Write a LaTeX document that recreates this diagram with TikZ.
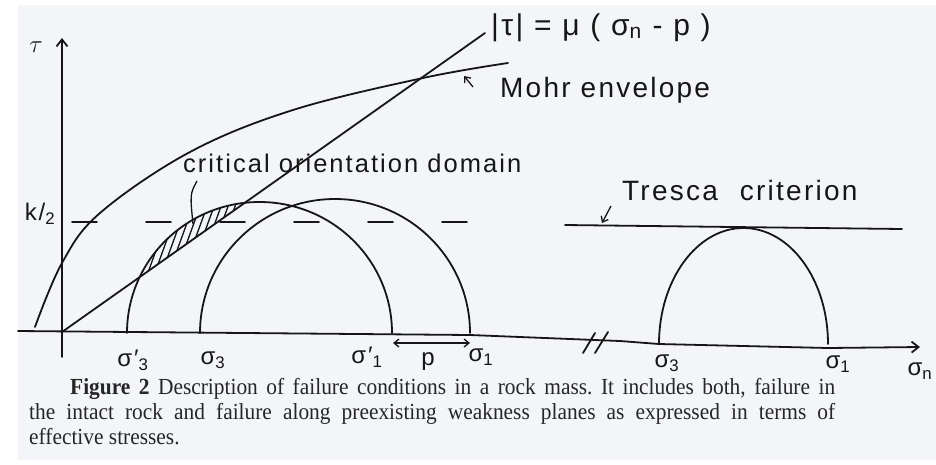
\documentclass[tikz,border=0pt]{standalone}
\usepackage{fontspec}
\setmainfont{Liberation Serif}
\newfontfamily\capfont[FakeStretch=0.93]{Liberation Serif}
\newfontfamily\hand[LetterSpace=8]{Liberation Sans}
\usepackage{tikz}
\usetikzlibrary{arrows.meta, positioning, calc}
\definecolor{scan}{RGB}{243,245,248}
\definecolor{ink}{RGB}{22,22,22}
\frenchspacing
\tikzstyle{curve} = [draw=ink, line width=1.8pt, line cap=round, line join=round]
\tikzstyle{axis} = [curve, -{Straight Barb[length=7pt, width=11pt]}]
\tikzstyle{tip} = [draw=ink, line width=1.3pt, -{Straight Barb[length=5pt, width=8pt]}]
\tikzstyle{twotip} = [draw=ink, line width=1.3pt, {Straight Barb[length=5pt, width=8pt]}-{Straight Barb[length=5pt, width=8pt]}]
\tikzstyle{lbl} = [text=ink, inner sep=0pt, font=\hand\fontsize{24}{24}\selectfont]
\tikzstyle{word} = [text=ink, inner sep=0pt, anchor=base west]
\tikzstyle{capline} = [text=black!85, inner sep=0pt, anchor=base west, font=\capfont\fontsize{23}{25}\selectfont]

\begin{document}
\begin{tikzpicture}[x=1pt, y=-1pt]
  \fill[white] (0,0) rectangle (936,464);
  \fill[scan] (18,5) rectangle (936,460);
  \useasboundingbox (0,0) rectangle (936,464);

  \coordinate (O) at (62,332);
  \coordinate (tb) at (62,357);
  \coordinate (tt) at (62,38);
  \coordinate (xl) at (18,331);
  \coordinate (xr) at (920,347);
  \coordinate (a1) at (127,333);
  \coordinate (b1) at (392,334);
  \coordinate (a2) at (200,333);
  \coordinate (b2) at (470,335);
  \coordinate (brk) at (620,341);
  \coordinate (a3) at (659,344);
  \coordinate (b3) at (828,348);
  \coordinate (mu) at (485,33);

  % axes
  \draw[axis] (xl) -- (b2) -- (brk) -- (a3) -- (b3) -- (xr);
  \draw[axis] (tb) -- (tt);
  \draw[curve] (583,353) -- (595,333) (595,353) -- (608,332);

  % hatched domain
  \begin{scope}
    \clip (a1) arc[start angle=180, end angle=360, x radius=132.5, y radius=131] -- cycle;
    \clip (O) -- (mu) -- (0,33) -- (0,332) -- cycle;
    \foreach \x in {96,103,...,260}
      \draw[ink, line width=1.3pt] (\x,300) -- ++(40,-110);
  \end{scope}

  \draw[curve, dash pattern=on 25pt off 49pt] (72,222) -- (490,222);
  \draw[curve] (a1) arc[start angle=180, end angle=360, x radius=132.5, y radius=131];
  \draw[curve] (a2) arc[start angle=180, end angle=360, x radius=135, y radius=134];
  \draw[curve] (a3) arc[start angle=180, end angle=360, x radius=84.5, y radius=116];
  \draw[curve] (O) -- (mu);
  \draw[curve] plot[smooth, tension=0.6] coordinates {(35,327) (62,263) (100,213) (190,152) (293,110) (423,78) (508,63)};
  \draw[curve] (565,225) -- (902,229);

  \node[lbl, font=\fontsize{30}{30}\selectfont] (tau) at (36,47) {$\tau$};
  \node[lbl] (khalf) at (40,214) {k/\textsubscript{2}};
  \node[lbl] (s3p) at (133,360) {σ′\textsubscript{3}};
  \node[lbl] (s3) at (213,360) {σ\textsubscript{3}};
  \node[lbl] (s1p) at (367,357) {σ′\textsubscript{1}};
  \node[lbl] (p) at (428,362) {p};
  \node[lbl] (s1) at (481,357) {σ\textsubscript{1}};
  \node[lbl] (s3r) at (667,363) {σ\textsubscript{3}};
  \node[lbl] (s1r) at (838,364) {σ\textsubscript{1}};
  \node[lbl] (sn) at (920,371) {σ\textsubscript{n}};

  \node[word, font=\hand\fontsize{30}{30}\selectfont] (law) at (491,35) {|τ| = μ ( σ\textsubscript{n} - p )};
  \node[word, font=\hand\fontsize{28}{28}\selectfont] (mohr) at (500,97) {Mohr envelope};
  \node[word, font=\hand\fontsize{25.5}{26}\selectfont] (crit) at (183,172) {critical orientation domain};
  \node[word, font=\hand\fontsize{28}{28}\selectfont] (tresca) at (622,200) {Tresca\hspace{22pt}criterion};

  \coordinate (pl) at (393,343);
  \coordinate (pr) at (470,343);
  \draw[twotip] (pl) -- (pr);
  \coordinate (mt) at (473,87);
  \coordinate (mh) at (464,76);
  \draw[tip] (mt) -- (mh);
  \coordinate (tt1) at (611,206);
  \coordinate (tt2) at (602,223);
  \draw[tip] (tt1) -- (tt2);
  \coordinate (cf) at (197,181);
  \coordinate (cp) at (193,224);
  \draw[ink, line width=1.3pt] (cf) .. controls (190,194) .. (cp);

  \node[capline] (cap1) at (70,394) {\makebox[765pt][s]{\textbf{Figure 2} Description of failure conditions in a rock mass. It includes both, failure in}};
  \node[capline] (cap2) at (29,419) {\makebox[806pt][s]{the intact rock and failure along preexisting weakness planes as expressed in terms of}};
  \node[capline] (cap3) at (29,444) {effective stresses.};
\end{tikzpicture}
\end{document}
